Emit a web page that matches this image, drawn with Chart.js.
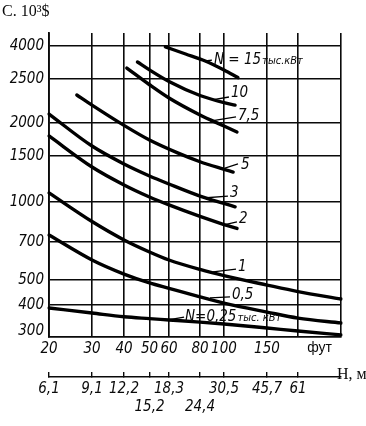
<!DOCTYPE html>
<html>
<head>
<meta charset="utf-8">
<script src="https://cdn.jsdelivr.net/npm/chart.js@4.4.1/dist/chart.umd.min.js"></script>
<style>
html,body{margin:0;padding:0;background:#fff;}
#wrap{position:relative;width:366px;height:426px;}
</style>
</head>
<body>
<div id="wrap"><canvas id="c"></canvas></div>
<script>
// ---------- DATA (H in feet, C in 10^3 $) ----------
const n15H  = [58, 70, 84, 100, 114];
const n15C  = [3950, 3570, 3230, 2840, 2550];
const n10H  = [45, 50, 60, 80, 100, 111];
const n10C  = [3185, 2845, 2468, 2299, 2217, 2190];
const n75H  = [41, 50, 60, 80, 100, 113];
const n75C  = [2920, 2428, 2270, 2083, 1948, 1849];
const n5H   = [26, 30, 40, 50, 65, 80, 98, 109];
const n5C   = [2305, 2190, 1959, 1724, 1541, 1426, 1341, 1302];
const n3H   = [20, 30, 40, 50, 60, 80, 100, 111];
const n3C   = [2093, 1636, 1398, 1258, 1172, 1054, 987, 958];
const n2H   = [20, 30, 40, 50, 60, 80, 100, 113];
const n2C   = [1786, 1361, 1162, 1045, 974, 879, 818, 790];
const n1H   = [20, 30, 40, 50, 60, 80, 100, 150, 200, 300];
const n1C   = [1083, 840, 713, 641, 597, 549, 520, 478, 451, 422];
const n05H  = [20, 30, 40, 50, 60, 80, 100, 150, 200, 300];
const n05C  = [745, 597, 527, 487, 464, 430, 407, 370, 346, 328];
const n025H = [20, 30, 40, 50, 60, 80, 100, 150, 200, 300];
const n025C = [387, 366, 351, 344, 339, 331, 324, 310, 300, 287];

// tick values and labels
const yTickVals   = [300, 400, 500, 700, 1000, 1500, 2000, 2500, 4000];
const yTickLabels = ['300', '400', '500', '700', '1000', '1500', '2000', '2500', '4000'];
const xTickVals   = [20, 30, 40, 50, 60, 80, 100, 150, 200, 245, 300];
const xTickLabels = ['20', '30', '40', '50', '60', '80', '100', '150', '', 'фут', ''];
const mTickFt     = [20, 30, 40, 50, 60, 80, 100, 150, 200];
const mTickLabels = ['6,1', '9,1', '12,2', ['', '15,2'], '18,3', ['', '24,4'], '30,5', '45,7', '61'];

// curve captions: text, position (H, C), leader start/end (H, C)
const capText   = ['N = 15', '10', '7,5', '5', '3', '2', '1', '0,5', 'N=0,25'];
const capSuffix = ['тыс.кВт', '', '', '', '', '', '', '', 'тыс. кВт'];
const capH      = [91.1, 106.8, 114.1, 117.4, 105.8, 115.2, 114.1, 107.8, 69.6];
const capC      = [3276, 2329, 2072, 1386, 1083, 859, 561, 437, 350];
const leadH1    = [83.8, 89.4, 87.8, 100.9, 82.3, 100, 90.3, 87.8, 59.5];
const leadC1    = [3231, 2248, 2020, 1349, 1036, 815, 537, 426, 339];
const leadH2    = [89.4, 104.8, 112, 114.1, 103.8, 113, 112, 105.8, 69];
const leadC2    = [3276, 2282, 2062, 1398, 1054, 837, 551, 430, 350];

// ---------- axis geometry of the (distorted) printed grid ----------
// grid values and their relative positions along the axis (0..1)
const X_AXIS = { vals: [20, 30, 40, 50, 60, 80, 100, 150, 200, 300],
                 pos:  [0, 43, 75, 100.5, 120, 151, 175, 218, 249, 292].map(p => p / 292) };
const Y_AXIS = { vals: [280, 300, 400, 500, 700, 1000, 1500, 2000, 2500, 4000, 4800],
                 pos:  [0, 6, 32, 57, 95, 135, 181, 214, 258, 291, 304].map(p => p / 304) };

function warp(v, a) {
  const n = a.vals.length;
  let i = 0;
  while (i < n - 2 && v > a.vals[i + 1]) i++;
  const t = Math.log(v / a.vals[i]) / Math.log(a.vals[i + 1] / a.vals[i]);
  return a.pos[i] + t * (a.pos[i + 1] - a.pos[i]);
}
function unwarp(d, a) {
  const n = a.pos.length;
  let i = 0;
  while (i < n - 2 && d > a.pos[i + 1]) i++;
  const t = (d - a.pos[i]) / (a.pos[i + 1] - a.pos[i]);
  return a.vals[i] * Math.pow(a.vals[i + 1] / a.vals[i], t);
}

class WarpScale extends Chart.LinearScale {
  _geom() { return this.id === 'y' ? Y_AXIS : X_AXIS; }
  determineDataLimits() {
    const a = this._geom();
    this.min = a.vals[0];
    this.max = a.vals[a.vals.length - 1];
  }
  buildTicks() {
    const list = this.id === 'y' ? yTickVals : (this.id === 'xm' ? mTickFt : xTickVals);
    return list.map(v => ({ value: v }));
  }
  getPixelForValue(v) { return this.getPixelForDecimal(warp(v, this._geom())); }
  getValueForPixel(p) { return unwarp(this.getDecimalForPixel(p), this._geom()); }
}
WarpScale.id = 'warp';
Chart.register(WarpScale);

// ---------- styles ----------
const INK = '#0a0a0a';
const NARROW = '"Liberation Sans Narrow", "DejaVu Sans Condensed", "Liberation Sans", sans-serif';
const tickFont = { family: NARROW, size: 15, style: 'italic' };

const pts = (h, c) => h.map((v, i) => ({ x: v, y: c[i] }));
const curve = (h, c) => ({
  data: pts(h, c), borderColor: '#000', borderWidth: 3.4, pointRadius: 0,
  cubicInterpolationMode: 'monotone', borderCapStyle: 'round', fill: false
});
const datasets = [
  curve(n15H, n15C), curve(n10H, n10C), curve(n75H, n75C), curve(n5H, n5C),
  curve(n3H, n3C), curve(n2H, n2C), curve(n1H, n1C), curve(n05H, n05C), curve(n025H, n025C)
];
leadH1.forEach((h, i) => {
  datasets.push({
    data: [{ x: h, y: leadC1[i] }, { x: leadH2[i], y: leadC2[i] }],
    borderColor: '#000', borderWidth: 1.3, pointRadius: 0, tension: 0, fill: false
  });
});

const captionPlugin = {
  id: 'captions',
  afterDatasetsDraw(chart) {
    const { ctx } = chart;
    const x = chart.scales.x, y = chart.scales.y, xm = chart.scales.xm;
    ctx.save();
    ctx.fillStyle = INK;
    ctx.textBaseline = 'middle';
    ctx.textAlign = 'left';
    capText.forEach((t, i) => {
      const px = x.getPixelForValue(capH[i]);
      const py = y.getPixelForValue(capC[i]);
      ctx.font = 'italic 15px ' + NARROW;
      ctx.fillText(t, px, py);
      if (capSuffix[i]) {
        const w = ctx.measureText(t).width;
        ctx.font = 'italic 11px ' + NARROW;
        ctx.fillText(capSuffix[i], px + w + 1, py + 1);
      }
    });
    ctx.font = '16px "Liberation Serif", "DejaVu Serif", serif';
    ctx.fillText('C. 10³$', 2, 12);
    ctx.fillText('H, м', xm.right - 4, xm.top - 2);
    ctx.restore();
  }
};

new Chart(document.getElementById('c'), {
  type: 'line',
  data: { datasets },
  plugins: [captionPlugin],
  options: {
    responsive: true,
    maintainAspectRatio: false,
    animation: false,
    events: [],
    layout: { padding: { top: 33, right: 25, bottom: 0, left: 0 } },
    plugins: { legend: { display: false }, tooltip: { enabled: false }, title: { display: false } },
    scales: {
      x: {
        type: 'warp', position: 'bottom', weight: 0,
        grid: {
          color: c => (c.tick && c.tick.value === 245) ? 'rgba(0,0,0,0)' : INK,
          lineWidth: 1.6, drawTicks: false
        },
        border: { display: true, color: INK, width: 1.8 },
        ticks: {
          autoSkip: false, maxRotation: 0, padding: 3, color: INK,
          font: c => (c.tick && c.tick.value === 245)
            ? { family: '"Liberation Sans", sans-serif', size: 14, style: 'normal' }
            : tickFont,
          callback: (v, i) => xTickLabels[i]
        },
        afterFit: s => { s.height = 40; }
      },
      xm: {
        type: 'warp', position: 'bottom', weight: 1,
        grid: { drawOnChartArea: false, drawTicks: true, tickLength: -5, color: INK, lineWidth: 1.4 },
        border: { display: true, color: INK, width: 1.5 },
        ticks: {
          autoSkip: false, maxRotation: 0, padding: 8, color: INK, font: tickFont,
          callback: (v, i) => mTickLabels[i]
        },
        afterFit: s => { s.height = 49; }
      },
      y: {
        type: 'warp', position: 'left',
        grid: {
          color: c => (c.tick && c.tick.value === 300) ? 'rgba(0,0,0,0)' : INK,
          lineWidth: 1.6, drawTicks: false
        },
        border: { display: true, color: INK, width: 1.8 },
        ticks: {
          autoSkip: false, padding: 5, color: INK, font: tickFont,
          callback: (v, i) => yTickLabels[i]
        },
        afterFit: s => { s.width = 49; }
      }
    }
  }
});
</script>
</body>
</html>
